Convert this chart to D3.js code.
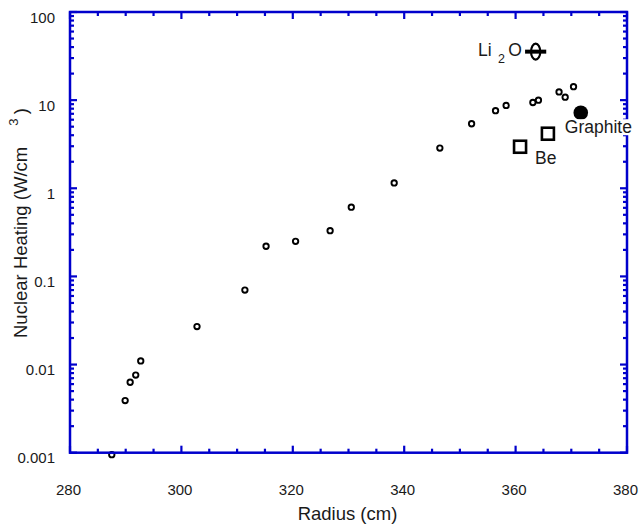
<!DOCTYPE html>
<html>
<head>
<meta charset="utf-8">
<script src="https://cdn.jsdelivr.net/npm/d3@7"></script>
<style>
  html, body { margin: 0; padding: 0; background: #fff; }
  svg { display: block; font-family: "Liberation Sans", Arial, Helvetica, sans-serif; }
</style>
</head>
<body>
<svg id="chart" width="640" height="525"></svg>
<script>
// Radial profile of nuclear heating (W/cm^3) vs. radius (cm)
const radius  = [287.5, 289.9, 290.8, 291.8, 292.7, 302.8, 311.4, 315.2, 320.5, 326.7,
                 330.5, 338.2, 346.4, 352.1, 356.4, 358.3, 363.1, 364.1, 367.8, 368.9, 370.4];
const heating = [0.00095, 0.0039, 0.0063, 0.0076, 0.011, 0.027, 0.070, 0.22, 0.25, 0.33,
                 0.61, 1.15, 2.86, 5.4, 7.6, 8.7, 9.4, 10.0, 12.4, 10.8, 14.2];

// Material reference points
const beRadius = [360.8, 365.8];
const beHeating = [2.96, 4.16];
const graphiteRadius = [371.7];
const graphiteHeating = [7.2];
const li2oRadius = [363.6];
const li2oHeating = [35.5];
const li2oRadiusErr = [1.9];

const xTicks = [280, 300, 320, 340, 360, 380];
const yTicks = [0.001, 0.01, 0.1, 1, 10, 100];
const yTickLabels = ["0.001", "0.01", "0.1", "1", "10", "100"];

const W = 640, H = 525;
const margin = { left: 70, right: 13, top: 12, bottom: 72.3 };
const axisColor = "#0000cc";
const textColor = "#1a1a1a";

const svg = d3.select("#chart");

const x = d3.scaleLinear().domain([280, 380]).range([margin.left, W - margin.right]);
const y = d3.scaleLog().domain([0.001, 100]).range([H - margin.bottom, margin.top]);

const x0 = x.range()[0], x1 = x.range()[1];
const y0 = y.range()[0], y1 = y.range()[1];

// minor tick values
const xMinor = d3.range(280, 380.001, 5).filter(v => v % 20 !== 0);
const yMinor = [];
for (let e = -3; e < 2; e++) for (let m = 2; m <= 9; m++) yMinor.push(m * Math.pow(10, e));

// tick labels (axis generators, label text only)
const labels = svg.append("g");
labels.append("g").attr("transform", `translate(0,${y0})`)
  .call(d3.axisBottom(x).tickValues(xTicks).tickSize(0).tickPadding(42).tickFormat(d3.format("d")))
  .call(g => g.select(".domain").remove())
  .call(g => g.selectAll(".tick line").remove())
  .call(g => g.selectAll(".tick text").attr("dy", null).attr("dx", -2)
    .attr("fill", textColor).attr("font-size", 15).attr("font-family", "Liberation Sans, Arial, sans-serif"));
labels.append("g").attr("transform", `translate(${x0},0)`)
  .call(d3.axisLeft(y).tickValues(yTicks).tickSize(0).tickPadding(15).tickFormat((d, i) => yTickLabels[i]))
  .call(g => g.select(".domain").remove())
  .call(g => g.selectAll(".tick line").remove())
  .call(g => g.selectAll(".tick text").attr("dy", "0.68em")
    .attr("fill", textColor).attr("font-size", 15).attr("font-family", "Liberation Sans, Arial, sans-serif"));

// axis titles
svg.append("text")
  .attr("x", (x0 + x1) / 2 - 1).attr("y", 520)
  .attr("text-anchor", "middle").attr("font-size", 18.5).attr("fill", textColor)
  .text("Radius (cm)");

const yTitle = svg.append("text")
  .attr("transform", "translate(26.5,338) rotate(-90)")
  .attr("text-anchor", "start").attr("font-size", 18.5).attr("fill", textColor);
yTitle.append("tspan").text("Nuclear Heating (W/cm");
yTitle.append("tspan").attr("font-size", 13).attr("dx", 21).attr("dy", -8.5).text("3");
yTitle.append("tspan").attr("dx", 4.3).attr("dy", 8.5).text(")");

// data points: open circles
const marks = svg.append("g");
marks.selectAll("circle.pt")
  .data(d3.zip(radius, heating))
  .join("circle").attr("class", "pt")
  .attr("cx", d => x(d[0])).attr("cy", d => y(d[1])).attr("r", 2.7)
  .attr("fill", "#fff").attr("stroke", "#000").attr("stroke-width", 1.9);

// Be: open squares
const sq = 12;
marks.selectAll("rect.be")
  .data(d3.zip(beRadius, beHeating))
  .join("rect").attr("class", "be")
  .attr("x", d => x(d[0]) - sq / 2).attr("y", d => y(d[1]) - sq / 2)
  .attr("width", sq).attr("height", sq)
  .attr("fill", "#fff").attr("stroke", "#000").attr("stroke-width", 2.6);

// Graphite: filled circle
marks.selectAll("circle.gr")
  .data(d3.zip(graphiteRadius, graphiteHeating))
  .join("circle").attr("class", "gr")
  .attr("cx", d => x(d[0])).attr("cy", d => y(d[1])).attr("r", 7.3)
  .attr("fill", "#000");

// Li2O: oval marker with horizontal error bar
const li = d3.zip(li2oRadius, li2oHeating, li2oRadiusErr);
marks.selectAll("ellipse.li")
  .data(li)
  .join("ellipse").attr("class", "li")
  .attr("cx", d => x(d[0])).attr("cy", d => y(d[1])).attr("rx", 4.6).attr("ry", 8)
  .attr("fill", "#fff").attr("stroke", "#000").attr("stroke-width", 2.2);
marks.selectAll("line.li")
  .data(li)
  .join("line").attr("class", "li")
  .attr("x1", d => x(d[0] - d[2])).attr("x2", d => x(d[0] + d[2]))
  .attr("y1", d => y(d[1])).attr("y2", d => y(d[1]))
  .attr("stroke", "#000").attr("stroke-width", 4);

// frame and inward ticks on all four sides
const frame = svg.append("g").attr("stroke", axisColor).attr("stroke-width", 2.2).attr("fill", "none");
frame.append("rect")
  .attr("x", x0).attr("y", y1).attr("width", x1 - x0).attr("height", y0 - y1)
  .attr("stroke-width", 2.5);

const xTickSet = xTicks.map(v => ({ v, len: 7 })).concat(xMinor.map(v => ({ v, len: 4 })));
const yTickSet = yTicks.map(v => ({ v, len: 7 })).concat(yMinor.map(v => ({ v, len: 4 })));

frame.selectAll("line.xb").data(xTickSet).join("line").attr("class", "xb")
  .attr("x1", d => x(d.v)).attr("x2", d => x(d.v)).attr("y1", y0).attr("y2", d => y0 - d.len);
frame.selectAll("line.xt").data(xTickSet).join("line").attr("class", "xt")
  .attr("x1", d => x(d.v)).attr("x2", d => x(d.v)).attr("y1", y1).attr("y2", d => y1 + d.len);
frame.selectAll("line.yl").data(yTickSet).join("line").attr("class", "yl")
  .attr("y1", d => y(d.v)).attr("y2", d => y(d.v)).attr("x1", x0).attr("x2", d => x0 + d.len);
frame.selectAll("line.yr").data(yTickSet).join("line").attr("class", "yr")
  .attr("y1", d => y(d.v)).attr("y2", d => y(d.v)).attr("x1", x1).attr("x2", d => x1 - d.len);

// material labels (white backing so they sit above the frame)
function label(px, py) {
  const g = svg.append("g");
  const t = g.append("text").attr("x", px).attr("y", py)
    .attr("text-anchor", "start").attr("font-size", 17.5).attr("fill", textColor);
  return { g, t };
}
function backing(l) {
  const b = l.t.node().getBBox();
  l.g.insert("rect", "text").attr("x", b.x - 1).attr("y", b.y + 2)
    .attr("width", b.width + 2).attr("height", b.height - 4).attr("fill", "#fff");
}

const gl = label(x(graphiteRadius[0]) - 16, y(graphiteHeating[0]) + 20.5);
gl.t.text("Graphite");
backing(gl);

const bl = label(x(beRadius[0]) + 15, y(beHeating[0]) + 17);
bl.t.text("Be");

const ll = label(x(li2oRadius[0]) - 57.7, y(li2oHeating[0]) + 4.5);
ll.t.append("tspan").text("Li");
ll.t.append("tspan").attr("font-size", 12.5).attr("dy", 7).attr("dx", 6.5).text("2");
ll.t.append("tspan").attr("dy", -7).attr("dx", 3.3).text("O");
</script>
</body>
</html>
